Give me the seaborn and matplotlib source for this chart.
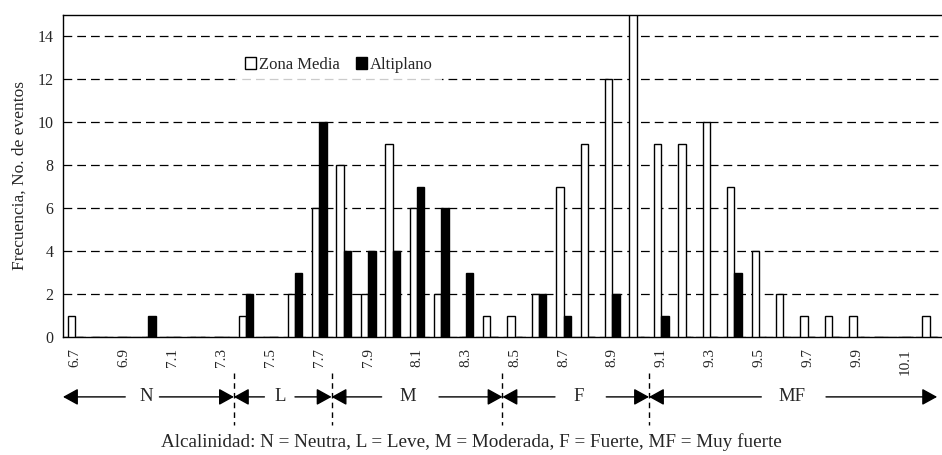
import numpy as np
import pandas as pd
import seaborn as sns
import matplotlib.pyplot as plt
import matplotlib.transforms as mtransforms
from matplotlib.patches import Patch

# pH classes 6.7 .. 10.2
ph = ['6.7', '6.8', '6.9', '7.0', '7.1', '7.2', '7.3', '7.4', '7.5', '7.6',
      '7.7', '7.8', '7.9', '8.0', '8.1', '8.2', '8.3', '8.4', '8.5', '8.6',
      '8.7', '8.8', '8.9', '9.0', '9.1', '9.2', '9.3', '9.4', '9.5', '9.6',
      '9.7', '9.8', '9.9', '10.0', '10.1', '10.2']
zona_media = [1, 0, 0, 0, 0, 0, 0, 1, 0, 2,
              6, 8, 2, 9, 6, 2, 0, 1, 1, 2,
              7, 9, 12, 15, 9, 9, 10, 7, 4, 2,
              1, 1, 1, 0, 0, 1]
altiplano = [0, 0, 0, 1, 0, 0, 0, 2, 0, 3,
             10, 4, 4, 4, 7, 6, 3, 0, 0, 2,
             1, 0, 2, 0, 1, 0, 0, 3, 0, 0,
             0, 0, 0, 0, 0, 0]
series = ['Zona Media', 'Altiplano']

# alkalinity classes under the axis (x in category units)
clases = ['N', 'L', 'M', 'F', 'MF']
limites = [-0.5, 6.5, 10.5, 17.5, 23.5, 35.3]
pos_lbl = [2.89, 8.39, 13.63, 20.6, 29.36]
gap_ini = [2.05, 7.75, 12.55, 19.65, 28.1]
gap_fin = [3.45, 9.0, 14.9, 21.75, 30.75]

df = pd.DataFrame({
    'pH': ph * 2,
    'Frecuencia': zona_media + altiplano,
    'Zona': [series[0]] * len(ph) + [series[1]] * len(ph),
})

sns.set_style('white')
plt.rcParams['font.family'] = ['Liberation Serif', 'DejaVu Serif']

fig = plt.figure(figsize=(9.42, 4.55), dpi=100)
ax = fig.add_axes([63 / 942, 118 / 455, 879 / 942, 322 / 455])

sns.barplot(data=df, x='pH', y='Frecuencia', hue='Zona', order=ph,
            hue_order=series, palette={'Zona Media': 'white', 'Altiplano': 'black'},
            edgecolor='black', linewidth=1, width=0.6, ax=ax, legend=False,
            zorder=3)

ax.set_xlim(-0.5, 35.09)
ax.set_ylim(0, 15)
ax.set_yticks(range(0, 16, 2))
ax.yaxis.grid(True, color='black', linestyle=(0, (7, 4)), linewidth=0.9)
ax.set_axisbelow(True)

ax.set_xticks(range(0, len(ph), 2))
ax.set_xticklabels(ph[::2], rotation=90, fontsize=11)
ax.set_xticks(np.arange(0.5, len(ph), 1), minor=True)
ax.tick_params(axis='x', which='major', length=0, pad=8)
ax.tick_params(axis='x', which='minor', length=5, width=1, color='black', direction='out')
ax.tick_params(axis='y', length=5, width=1, color='black', direction='out', labelsize=11.5, pad=2)
ax.set_xlabel('')
ax.set_ylabel('Frecuencia, No. de eventos', fontsize=12.5, labelpad=7)

for s in ['left', 'bottom', 'top']:
    ax.spines[s].set_color('black')
    ax.spines[s].set_linewidth(1)
ax.spines['right'].set_visible(False)

handles = [Patch(facecolor='white', edgecolor='black', linewidth=1),
           Patch(facecolor='black', edgecolor='black', linewidth=1)]
leg = ax.legend(handles, series, loc='center left', bbox_to_anchor=(0.196, 0.845),
                ncol=2, frameon=True, fontsize=12, handlelength=0.65, handleheight=0.65,
                handletextpad=0.15, columnspacing=1.0, borderpad=0.6, fancybox=False,
                borderaxespad=0)
leg.get_frame().set_facecolor('white')
leg.get_frame().set_edgecolor('none')
leg.set_zorder(5)

# class arrows below the axis
tr = mtransforms.blended_transform_factory(ax.transData, ax.transAxes)
y_arr = -0.186
for i, c in enumerate(clases):
    for a, b in [(gap_ini[i], limites[i]), (gap_fin[i], limites[i + 1])]:
        ax.annotate('', xy=(b, y_arr), xytext=(a, y_arr), xycoords=tr, textcoords=tr,
                    annotation_clip=False,
                    arrowprops=dict(arrowstyle='-|>,head_length=0.4,head_width=0.22',
                                    mutation_scale=23, color='black', lw=1,
                                    shrinkA=0, shrinkB=0))
    ax.text(pos_lbl[i], y_arr, c, transform=tr, ha='center', va='center',
            fontsize=13.5, clip_on=False)
for b in limites[1:-1]:
    ax.plot([b, b], [-0.112, -0.273], transform=tr, color='black', lw=1,
            linestyle=(0, (4, 3)), clip_on=False)

fig.text(471 / 942, 13 / 455,
         'Alcalinidad: N = Neutra, L = Leve, M = Moderada, F = Fuerte, MF = Muy fuerte',
         ha='center', va='center', fontsize=13.8)

fig.savefig('out.png', dpi=100)
